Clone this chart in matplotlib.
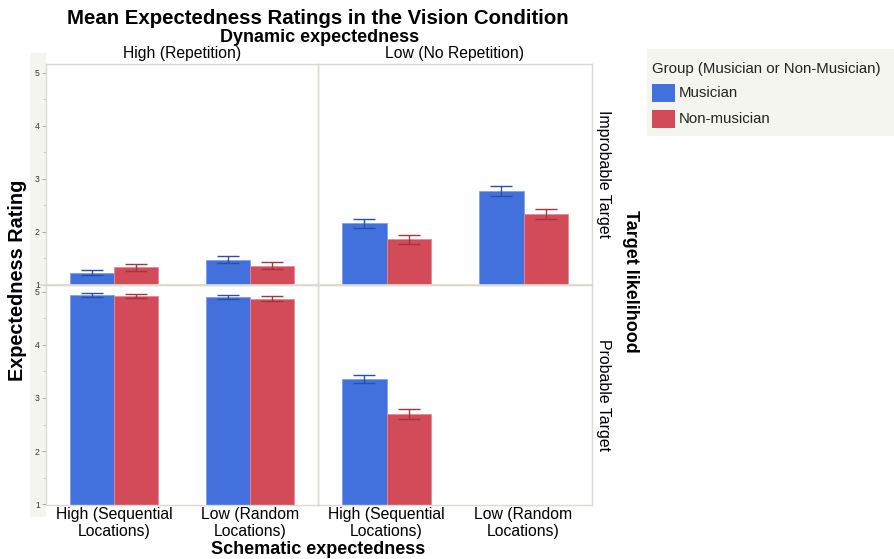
import matplotlib.pyplot as plt
import numpy as np
from matplotlib.patches import Rectangle

plt.rcParams['font.family'] = ['Liberation Sans', 'DejaVu Sans']

# facets: rows = target likelihood, cols = dynamic expectedness
row_names = ["Improbable Target", "Probable Target"]
col_names = ["High (Repetition)", "Low (No Repetition)"]
schematic = ["High (Sequential\nLocations)", "Low (Random\nLocations)"]
groups = ["Musician", "Non-musician"]

# mean ratings per facet, one value per schematic level
musician = {
    ("Improbable Target", "High (Repetition)"): [1.23, 1.48],
    ("Improbable Target", "Low (No Repetition)"): [2.16, 2.77],
    ("Probable Target", "High (Repetition)"): [4.94, 4.90],
    ("Probable Target", "Low (No Repetition)"): [3.36, np.nan],
}
nonmusician = {
    ("Improbable Target", "High (Repetition)"): [1.33, 1.36],
    ("Improbable Target", "Low (No Repetition)"): [1.86, 2.34],
    ("Probable Target", "High (Repetition)"): [4.92, 4.87],
    ("Probable Target", "Low (No Repetition)"): [2.70, np.nan],
}
musician_err = {
    ("Improbable Target", "High (Repetition)"): [0.05, 0.07],
    ("Improbable Target", "Low (No Repetition)"): [0.09, 0.09],
    ("Probable Target", "High (Repetition)"): [0.04, 0.04],
    ("Probable Target", "Low (No Repetition)"): [0.08, np.nan],
}
nonmusician_err = {
    ("Improbable Target", "High (Repetition)"): [0.07, 0.065],
    ("Improbable Target", "Low (No Repetition)"): [0.09, 0.09],
    ("Probable Target", "High (Repetition)"): [0.04, 0.04],
    ("Probable Target", "Low (No Repetition)"): [0.10, np.nan],
}

blue = '#4270DC'
red = '#D34A59'
blue_dark = '#2C4FA6'
red_dark = '#A53441'
edge = '#DADAD0'
strip = '#F5F5F0'

W, H = 895, 559
fig = plt.figure(figsize=(W / 100, H / 100), dpi=100)


def box(x0, y0, x1, y1):
    # pixel box (top-left origin) -> figure fraction rect
    return [x0 / W, 1 - y1 / H, (x1 - x0) / W, (y1 - y0) / H]


# grey strip behind the y tick labels
fig.patches.append(Rectangle((30 / W, 1 - 517 / H), 16 / W, (517 - 53) / H,
                             transform=fig.transFigure, facecolor=strip,
                             edgecolor='none', zorder=-5))

xs = [46, 318, 592]
ys = [[64, 285], [285, 505]]
ylims = [(1, 5.165), (0.987, 5.125)]
bw = 0.325
x = np.arange(len(schematic))

for r, rname in enumerate(row_names):
    for c, cname in enumerate(col_names):
        ax = fig.add_axes(box(xs[c], ys[r][0], xs[c + 1], ys[r][1]))
        ax.patch.set_alpha(0)
        key = (rname, cname)
        ax.bar(x - bw / 2, musician[key], bw, color=blue, edgecolor='#7FA0EE', linewidth=0.6)
        ax.bar(x + bw / 2, nonmusician[key], bw, color=red, edgecolor='#E58A95', linewidth=0.6)
        ax.errorbar(x - bw / 2, musician[key], yerr=musician_err[key], fmt='none',
                    ecolor=blue_dark, elinewidth=1, capsize=8, capthick=1)
        ax.errorbar(x + bw / 2, nonmusician[key], yerr=nonmusician_err[key], fmt='none',
                    ecolor=red_dark, elinewidth=1, capsize=8, capthick=1)
        ax.set_xlim(-0.5, 1.5)
        ax.set_ylim(*ylims[r])
        for s in ax.spines.values():
            s.set_color(edge)
            s.set_linewidth(1)
        ax.set_yticks([1, 2, 3, 4, 5])
        ax.set_yticks([1.5, 2.5, 3.5, 4.5], minor=True)
        if c == 0:
            ax.tick_params(axis='y', which='major', labelsize=6.2, length=3, width=0.6,
                           color='#999999', labelcolor='#333333', pad=1.5)
            ax.tick_params(axis='y', which='minor', length=2, width=0.5, color='#bbbbbb')
        else:
            ax.tick_params(axis='y', which='both', left=False, labelleft=False)
        if r == 1:
            ax.set_xticks(x)
            ax.set_xticklabels(schematic, fontsize=11.3, linespacing=1.2)
            ax.tick_params(axis='x', length=0, pad=1.5)
        else:
            ax.set_xticks([])
        if r == 0:
            ax.text(0.5, 1.015, cname, transform=ax.transAxes, ha='center', va='bottom',
                    fontsize=11.3)
        if c == 1:
            ax.text(1.015, 0.5, rname, transform=ax.transAxes, ha='left', va='center',
                    rotation=-90, fontsize=11.4)

# divider line between the rows, running into the tick strip
fig.add_artist(plt.Line2D([40 / W, 592 / W], [1 - 285 / H, 1 - 285 / H],
                          color=edge, linewidth=1.2, transform=fig.transFigure))

fig.text(318 / W, 1 - 18.5 / H, "Mean Expectedness Ratings in the Vision Condition",
         ha='center', va='center', fontsize=14.7, fontweight='bold')
fig.text(320 / W, 1 - 37.5 / H, "Dynamic expectedness", ha='center', va='center',
         fontsize=13, fontweight='bold')
fig.text(318 / W, 1 - 549 / H, "Schematic expectedness", ha='center', va='center',
         fontsize=13, fontweight='bold')
fig.text(18 / W, 1 - 280 / H, "Expectedness Rating", ha='center', va='center',
         rotation=90, fontsize=14.3, fontweight='bold')
fig.text(630 / W, 1 - 281 / H, "Target likelihood", ha='center', va='center',
         rotation=-90, fontsize=13, fontweight='bold')

# legend panel
fig.patches.append(Rectangle((647 / W, 1 - 136 / H), 248 / W, 87 / H,
                             transform=fig.transFigure, facecolor=strip,
                             edgecolor='none', zorder=-5))
fig.text(652 / W, 1 - 69 / H, "Group (Musician or Non-Musician)", ha='left',
         va='center', fontsize=10.8, color='#222222')
for i, (g, col) in enumerate(zip(groups, [blue, red])):
    yc = 93 + i * 26
    fig.patches.append(Rectangle((652 / W, 1 - (yc + 9) / H), 23 / W, 18 / H,
                                 transform=fig.transFigure, facecolor=col,
                                 edgecolor='none'))
    fig.text(679 / W, 1 - yc / H, g, ha='left', va='center', fontsize=10.8,
             color='#222222')

fig.savefig('out.png', dpi=100)
